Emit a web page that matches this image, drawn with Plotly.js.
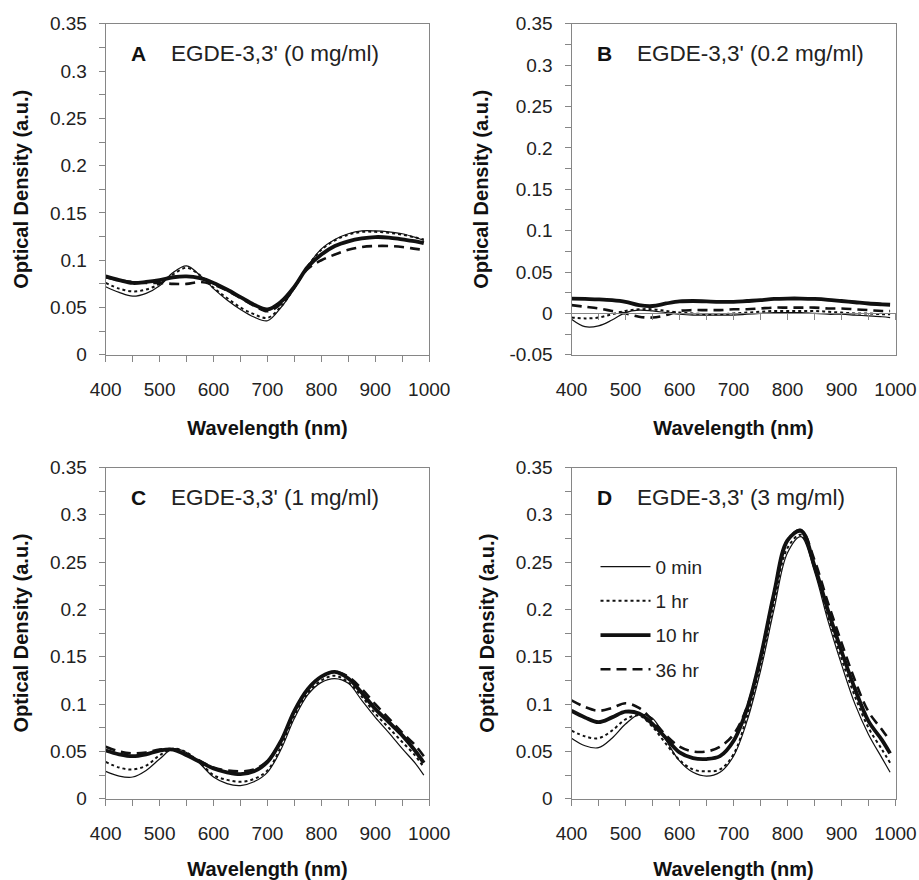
<!DOCTYPE html>
<html><head><meta charset="utf-8">
<script src="https://cdn.plot.ly/plotly-3.0.1.min.js"></script>
<style>html,body{margin:0;padding:0;background:#fff}#chart{width:919px;height:880px}</style>
</head><body><div id="chart"></div>
<script>
// ---------- data ----------
const wavelength = [400,425,450,475,500,525,550,575,600,625,650,675,700,725,750,775,800,825,850,875,900,925,950,975,990];
const seriesNames = ['0 min','1 hr','10 hr','36 hr'];

const panelA_0min = [0.072,0.066,0.062,0.065,0.073,0.087,0.094,0.084,0.070,0.058,0.048,0.040,0.036,0.050,0.070,0.094,0.112,0.122,0.128,0.131,0.131,0.130,0.128,0.124,0.121];
const panelA_1hr  = [0.076,0.070,0.067,0.069,0.075,0.085,0.092,0.084,0.071,0.060,0.050,0.043,0.039,0.051,0.071,0.094,0.111,0.121,0.127,0.130,0.130,0.129,0.127,0.124,0.122];
const panelA_10hr = [0.083,0.079,0.076,0.077,0.079,0.082,0.083,0.081,0.076,0.069,0.061,0.053,0.048,0.056,0.072,0.093,0.106,0.115,0.120,0.123,0.1245,0.124,0.122,0.120,0.118];
const panelA_36hr = [0.082,0.079,0.077,0.076,0.076,0.075,0.075,0.077,0.074,0.068,0.060,0.052,0.046,0.054,0.072,0.091,0.100,0.106,0.111,0.114,0.115,0.115,0.114,0.112,0.111];

const panelB_0min = [-0.007,-0.016,-0.015,-0.008,0.001,0.004,0.003,0.001,-0.001,-0.002,-0.002,-0.002,-0.002,-0.001,0.000,0.001,0.001,0.001,0.000,-0.001,-0.001,-0.002,-0.003,-0.004,-0.005];
const panelB_1hr  = [-0.005,-0.006,-0.005,-0.001,0.003,0.005,0.005,0.003,0.001,0.000,-0.001,-0.001,0.000,0.001,0.002,0.003,0.003,0.003,0.003,0.002,0.001,0.000,0.000,-0.001,-0.001];
const panelB_10hr = [0.018,0.0175,0.017,0.016,0.014,0.010,0.009,0.012,0.0145,0.015,0.0145,0.014,0.014,0.015,0.016,0.0175,0.018,0.018,0.0175,0.0165,0.015,0.0135,0.012,0.011,0.0105];
const panelB_36hr = [0.010,0.008,0.006,0.003,0.000,-0.004,-0.005,-0.002,0.003,0.004,0.004,0.004,0.005,0.005,0.006,0.007,0.007,0.007,0.007,0.006,0.006,0.005,0.004,0.003,0.003];

const panelC_0min = [0.029,0.024,0.023,0.030,0.042,0.053,0.049,0.037,0.023,0.016,0.014,0.018,0.028,0.052,0.085,0.110,0.123,0.127,0.122,0.104,0.086,0.070,0.053,0.037,0.025];
const panelC_1hr  = [0.039,0.033,0.031,0.035,0.046,0.053,0.049,0.038,0.025,0.020,0.018,0.021,0.030,0.055,0.088,0.112,0.125,0.130,0.123,0.108,0.090,0.075,0.060,0.045,0.033];
const panelC_10hr = [0.051,0.047,0.045,0.047,0.051,0.052,0.046,0.039,0.032,0.028,0.026,0.029,0.039,0.061,0.093,0.116,0.129,0.134,0.127,0.112,0.095,0.081,0.067,0.050,0.038];
const panelC_36hr = [0.055,0.050,0.048,0.049,0.052,0.052,0.047,0.040,0.033,0.030,0.029,0.031,0.040,0.061,0.092,0.116,0.129,0.134,0.129,0.116,0.100,0.085,0.070,0.056,0.045];

const panelD_0min = [0.064,0.056,0.054,0.064,0.079,0.089,0.085,0.062,0.040,0.028,0.024,0.028,0.045,0.082,0.135,0.200,0.260,0.277,0.240,0.188,0.142,0.100,0.068,0.043,0.028];
const panelD_1hr  = [0.072,0.066,0.064,0.072,0.084,0.088,0.076,0.058,0.041,0.031,0.029,0.031,0.047,0.087,0.141,0.207,0.265,0.279,0.244,0.193,0.148,0.108,0.075,0.052,0.038];
const panelD_10hr = [0.093,0.086,0.081,0.086,0.092,0.090,0.079,0.064,0.049,0.043,0.042,0.045,0.061,0.095,0.149,0.217,0.273,0.283,0.246,0.199,0.156,0.116,0.082,0.062,0.048];
const panelD_36hr = [0.104,0.097,0.093,0.096,0.101,0.096,0.083,0.067,0.055,0.050,0.050,0.055,0.068,0.097,0.149,0.217,0.273,0.284,0.252,0.207,0.165,0.125,0.092,0.073,0.061];

const panelLetters = ['A','B','C','D'];
const panelTitles = ["EGDE-3,3' (0 mg/ml)","EGDE-3,3' (0.2 mg/ml)","EGDE-3,3' (1 mg/ml)","EGDE-3,3' (3 mg/ml)"];
const xTickVals = [400,500,600,700,800,900,1000];
const xTickText = ['400','500','600','700','800','900','1000'];
const yTickVals = [0,0.05,0.1,0.15,0.2,0.25,0.3,0.35];
const yTickText = ['0','0.05','0.1','0.15','0.2','0.25','0.3','0.35'];
const yTickValsB = [-0.05,0,0.05,0.1,0.15,0.2,0.25,0.3,0.35];
const yTickTextB = ['-0.05','0','0.05','0.1','0.15','0.2','0.25','0.3','0.35'];
const xTitle = 'Wavelength (nm)';
const yTitle = 'Optical Density (a.u.)';

// ---------- build ----------
const W = 919, H = 880;
const FONT = 'Liberation Sans, Arial, sans-serif';
const GREY = '#868686';
const TXT = '#222';
const styles = [
  {width:1.2, dash:'solid'},
  {width:2, dash:'dot'},
  {width:3.8, dash:'solid'},
  {width:2.6, dash:'10px,6px'}
];
const panels = [
  {series:[panelA_0min,panelA_1hr,panelA_10hr,panelA_36hr], yr:[0,0.35], tv:yTickVals, tt:yTickText},
  {series:[panelB_0min,panelB_1hr,panelB_10hr,panelB_36hr], yr:[-0.05,0.35], tv:yTickValsB, tt:yTickTextB},
  {series:[panelC_0min,panelC_1hr,panelC_10hr,panelC_36hr], yr:[0,0.35], tv:yTickVals, tt:yTickText},
  {series:[panelD_0min,panelD_1hr,panelD_10hr,panelD_36hr], yr:[0,0.35], tv:yTickVals, tt:yTickText}
];
// pixel frames of the plot areas
const colX = [[105.7,429.2],[571.5,895.5]];
const rowY = [[23.8,354.8],[467.5,798.8]];
const xd = c => [colX[c][0]/W, colX[c][1]/W];
const yd = r => [1-rowY[r][1]/H, 1-rowY[r][0]/H];

const traces = [];
const layout = {
  width: W, height: H,
  margin:{l:0,r:0,t:0,b:0},
  paper_bgcolor:'#fff', plot_bgcolor:'#fff',
  font:{family:FONT, color:TXT},
  showlegend:true,
  legend:{x:0.648, y:0.3775, xanchor:'left', yanchor:'top', font:{size:19, color:TXT, family:FONT},
          bgcolor:'rgba(0,0,0,0)', borderwidth:0, tracegroupgap:6.5, itemwidth:50, traceorder:'grouped'},
  annotations:[]
};

panels.forEach((p, i) => {
  const n = i+1;
  const c = i % 2, r = Math.floor(i/2);
  const xa = 'x'+(n===1?'':n), ya = 'y'+(n===1?'':n);
  const xk = 'xaxis'+(n===1?'':n), yk = 'yaxis'+(n===1?'':n);
  p.series.forEach((s, k) => {
    traces.push({
      x: wavelength, y: s, xaxis: xa, yaxis: ya, type:'scatter', mode:'lines',
      name: seriesNames[k], legendgroup: 'g'+k, showlegend: n===4,
      line:{color:'#111', width:styles[k].width, dash:styles[k].dash, shape:'spline', smoothing:1},
      hoverinfo:'skip'
    });
  });
  const isB = n===2;
  layout[xk] = {
    domain: xd(c), anchor: ya, range:[400,1000],
    tickmode:'array', tickvals:xTickVals, ticktext:xTickText,
    ticks: isB ? '' : 'outside', ticklen:6, tickcolor:GREY, tickwidth:1,
    minor: isB ? {ticks:''} : {tickmode:'linear', tick0:400, dtick:50, ticks:'outside', ticklen:6, tickcolor:GREY, tickwidth:1},
    showline:true, linecolor:GREY, linewidth:1, mirror:true,
    showgrid:false, zeroline:false,
    tickfont:{size:19, color:TXT, family:FONT}, ticklabelstandoff: isB ? 17 : 11,
    title:{text:'<b>'+xTitle+'</b>', font:{size:20, color:'#111', family:FONT}, standoff:22}
  };
  layout[yk] = {
    domain: yd(r), anchor: xa, range:p.yr,
    tickmode:'array', tickvals:p.tv, ticktext:p.tt,
    ticks:'outside', ticklen:6, tickcolor:GREY, tickwidth:1,
    minor:{tickmode:'linear', tick0:p.yr[0], dtick:0.025, ticks:'outside', ticklen:6, tickcolor:GREY, tickwidth:1},
    showline:true, linecolor:GREY, linewidth:1, mirror:true,
    showgrid:false, zeroline:false,
    tickfont:{size:19, color:TXT, family:FONT}, ticklabelstandoff:8,
    title:{text:'<b>'+yTitle+'</b>', font:{size:20, color:'#111', family:FONT}, standoff:15}
  };
  layout.annotations.push({
    xref: xa+' domain', yref: ya+' domain', x:0.071, y:0.91, xanchor:'left', yanchor:'middle',
    text:'<b>'+panelLetters[i]+'</b>', showarrow:false, font:{size:21, color:'#111', family:FONT}
  });
  layout.annotations.push({
    xref: xa+' domain', yref: ya+' domain', x:0.196, y:0.91, xanchor:'left', yanchor:'middle',
    text:panelTitles[i], showarrow:false, font:{size:22.5, color:TXT, family:FONT}
  });
});

// Panel B: horizontal axis line drawn through zero with its ticks
const dB = yd(0);
const zeroFrac = (0 - panels[1].yr[0]) / (panels[1].yr[1] - panels[1].yr[0]);
layout.xaxis5 = {
  overlaying:'x2', anchor:'free', position: dB[0] + zeroFrac*(dB[1]-dB[0]),
  range:[400,1000], tickmode:'array', tickvals:xTickVals, ticktext:xTickText,
  showticklabels:false, ticks:'outside', ticklen:6, tickcolor:GREY, tickwidth:1,
  minor:{tickmode:'linear', tick0:400, dtick:50, ticks:'outside', ticklen:6, tickcolor:GREY, tickwidth:1},
  showline:true, linecolor:GREY, linewidth:1, showgrid:false, zeroline:false
};
traces.push({x:[400], y:[null], xaxis:'x5', yaxis:'y2', type:'scatter', mode:'lines', showlegend:false, hoverinfo:'skip'});

Plotly.newPlot('chart', traces, layout, {staticPlot:true});
</script>
</body></html>
